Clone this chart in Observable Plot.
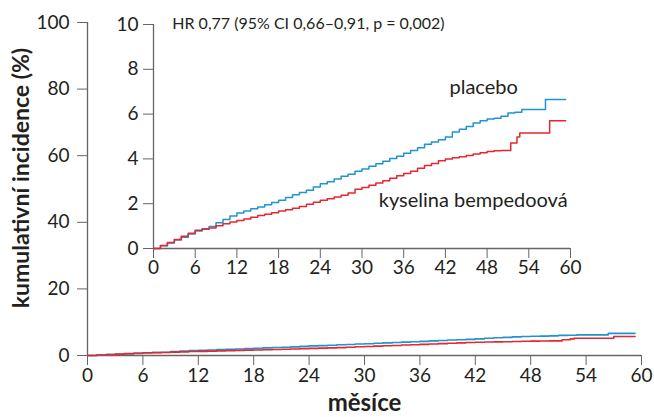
<!DOCTYPE html>
<html>
<head>
<meta charset="utf-8">
<script src="https://cdn.jsdelivr.net/npm/d3@7"></script>
<script src="https://cdn.jsdelivr.net/npm/@observablehq/plot@0.6"></script>
<style>
  html, body { margin: 0; padding: 0; background: white; }
  #wrap { position: relative; width: 654px; height: 417px; font-family: Lato, sans-serif; }
</style>
</head>
<body>
<div id="wrap"></div>
<script>
// Data — cumulative incidence in %
const placeboMonths = [0,1,2,3,4,5,6,7,8,9,10,11,12,13,14,15,16,17,18,19,20,21,22,23,24,25,26,27,28,29,30,31,32,33,34,35,36,37,38,39,40,41,42,43,44,45,46,47,48,49,50,51,52,53,56.4,59.3];
const placeboValues = [0,0.12,0.25,0.38,0.5,0.65,0.78,0.88,0.98,1.15,1.3,1.45,1.58,1.67,1.77,1.85,1.95,2.05,2.15,2.28,2.4,2.5,2.6,2.75,2.89,2.98,3.1,3.22,3.32,3.45,3.55,3.67,3.78,3.9,4.02,4.12,4.25,4.38,4.5,4.65,4.75,4.85,4.98,5.2,5.32,5.45,5.6,5.7,5.78,5.82,5.9,6.05,6.08,6.2,6.65,6.65];

const bempedoicMonths = [0,1,2,3,4,5,6,7,8,9,10,11,12,13,14,15,16,17,18,19,20,21,22,23,24,25,26,27,28,29,30,31,32,33,34,35,36,37,38,39,40,41,42,43,44,45,46,47,48,49,50,51.4,52.3,52.7,57,59.3];
const bempedoicValues = [0,0.13,0.27,0.4,0.55,0.68,0.82,0.86,0.92,1.02,1.1,1.18,1.25,1.32,1.4,1.47,1.53,1.6,1.67,1.73,1.8,1.88,1.97,2.06,2.15,2.22,2.3,2.38,2.48,2.65,2.72,2.82,2.92,3.02,3.14,3.25,3.35,3.45,3.58,3.7,3.8,3.92,4.0,4.05,4.1,4.15,4.22,4.28,4.33,4.36,4.38,4.71,4.98,5.16,5.7,5.7];

const xTicks = [0,6,12,18,24,30,36,42,48,54,60];
const mainYTicks = [0,20,40,60,80,100];
const insetYTicks = [0,2,4,6,8,10];

const seriesNames = ["placebo", "kyselina bempedoová"];
const hrText = "HR 0,77 (95% CI 0,66–0,91, p = 0,002)";
const xTitle = "měsíce";
const yTitle = "kumulativní incidence (%)";

const placebo = placeboMonths.map((m, i) => ({m, v: placeboValues[i]}));
const bempedoic = bempedoicMonths.map((m, i) => ({m, v: bempedoicValues[i]}));

const BLUE = "#1f95d0";
const RED = "#e8262f";
const AXIS = "#666";
const TEXT = "#231f20";

const wrap = document.getElementById("wrap");

const main = Plot.plot({
  width: 654,
  height: 417,
  marginLeft: 87,
  marginRight: 13,
  marginTop: 22,
  marginBottom: 62,
  style: {fontFamily: "Lato, sans-serif", fontSize: "19px", color: TEXT, background: "transparent", position: "absolute", left: "0px", top: "0px", overflow: "visible"},
  x: {domain: [0, 60]},
  y: {domain: [0, 100]},
  marks: [
    Plot.axisX({ticks: xTicks, tickSize: 10, tickPadding: 3, fontSize: 19, stroke: AXIS, label: null, fill: TEXT}),
    Plot.axisY({ticks: mainYTicks, tickSize: 10, tickPadding: 8, fontSize: 19, stroke: AXIS, label: null, fill: TEXT}),
    Plot.ruleX([0], {stroke: AXIS, strokeWidth: 1.3}),
    Plot.ruleY([0], {stroke: AXIS, strokeWidth: 1.3}),
    Plot.line(placebo, {x: "m", y: "v", curve: "step-after", stroke: BLUE, strokeWidth: 1.6}),
    Plot.line(bempedoic, {x: "m", y: "v", curve: "step-after", stroke: RED, strokeWidth: 1.6}),
    Plot.text([yTitle], {frameAnchor: "left", textAnchor: "middle", rotate: -90, dx: -66, dy: -11, fontWeight: "bold", fontSize: 23, fill: TEXT}),
    Plot.text([xTitle], {frameAnchor: "bottom", textAnchor: "middle", dy: 55, fontWeight: "bold", fontSize: 24, fill: TEXT})
  ]
});
wrap.appendChild(main);

const inset = Plot.plot({
  width: 654,
  height: 417,
  marginLeft: 153,
  marginRight: 84,
  marginTop: 24,
  marginBottom: 169,
  style: {fontFamily: "Lato, sans-serif", fontSize: "19px", color: TEXT, background: "transparent", position: "absolute", left: "0px", top: "0px", overflow: "visible"},
  x: {domain: [0, 60]},
  y: {domain: [0, 10]},
  marks: [
    Plot.axisX({ticks: xTicks, tickSize: 10, tickPadding: 2, fontSize: 19, stroke: AXIS, label: null, fill: TEXT}),
    Plot.axisY({ticks: insetYTicks, tickSize: 10, tickPadding: 5, fontSize: 19, stroke: AXIS, label: null, fill: TEXT}),
    Plot.ruleX([0], {stroke: AXIS, strokeWidth: 1.3}),
    Plot.ruleY([0], {stroke: AXIS, strokeWidth: 1.3}),
    Plot.line(placebo, {x: "m", y: "v", curve: "step-after", stroke: BLUE, strokeWidth: 1.5}),
    Plot.line(bempedoic, {x: "m", y: "v", curve: "step-after", stroke: RED, strokeWidth: 1.5}),
    Plot.text([hrText], {x: 2.7, y: 10.05, textAnchor: "start", fontSize: 16, fill: TEXT}),
    Plot.text([seriesNames[0]], {x: 47.5, y: 7.2, fontSize: 20, fill: TEXT}),
    Plot.text([seriesNames[1]], {x: 46, y: 2.15, fontSize: 20, fill: TEXT})
  ]
});
wrap.appendChild(inset);
</script>
</body>
</html>
